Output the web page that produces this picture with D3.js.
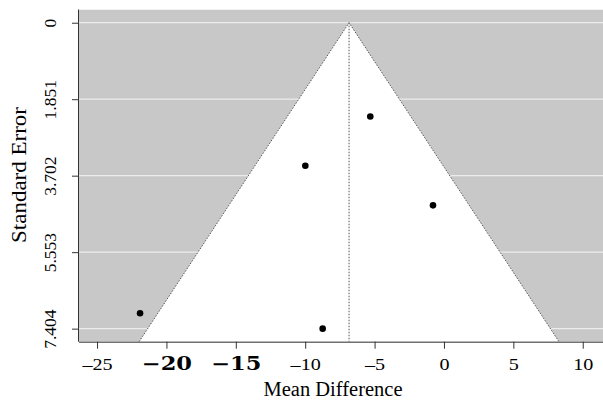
<!DOCTYPE html>
<html>
<head>
<meta charset="utf-8">
<style>
  body { margin: 0; background: #fff; }
  text { font-family: "Liberation Serif", "Times New Roman", serif; fill: #000; }
</style>
</head>
<body>
<div id="chart"></div>
<script src="https://cdn.jsdelivr.net/npm/d3@7"></script>
<script>
// study effects (mean difference) and standard errors
var meanDiff = [-5.31, -9.99, -0.79, -21.9, -8.74];
var stdErr = [2.27, 3.46, 4.42, 7.03, 7.404];
var pooled = -6.84;
var seTicks = [0, 1.851, 3.702, 5.553, 7.404];
var seTickLabels = ["0", "1.851", "3.702", "5.553", "7.404"];
var mdTicks = [-25, -20, -15, -10, -5, 0, 5, 10];

var W = 603, H = 402;
var pLeft = 79, pTop = 9.5, pRight = 603, pBottom = 341.7;

var svg = d3.select("#chart").append("svg")
  .attr("width", W).attr("height", H);

var x = d3.scaleLinear().domain([-26.3, 11.46]).range([pLeft, pRight]);
var y = d3.scaleLinear().domain([-0.32, 7.72]).range([pTop, pBottom]);

svg.append("clipPath").attr("id", "plotclip")
  .append("rect").attr("x", pLeft).attr("y", pTop)
  .attr("width", pRight - pLeft).attr("height", pBottom - pTop);

var plot = svg.append("g").attr("clip-path", "url(#plotclip)");

// grey background
plot.append("rect")
  .attr("x", pLeft).attr("y", pTop)
  .attr("width", pRight - pLeft).attr("height", pBottom - pTop)
  .attr("fill", "#c8c8c8");

// white grid lines
plot.selectAll("line.grid").data(seTicks).enter().append("line")
  .attr("class", "grid")
  .attr("x1", pLeft).attr("x2", pRight)
  .attr("y1", function(d) { return y(d); })
  .attr("y2", function(d) { return y(d); })
  .attr("stroke", "#ececec").attr("stroke-width", 1.2);

// funnel region
var seMax = y.domain()[1];
var funnel = [
  [pooled - 1.96 * seMax, seMax],
  [pooled, 0],
  [pooled + 1.96 * seMax, seMax]
];
plot.append("polygon")
  .attr("points", funnel.map(function(p) { return x(p[0]) + "," + y(p[1]); }).join(" "))
  .attr("fill", "#fff");

plot.append("path")
  .attr("d", d3.line().x(function(p) { return x(p[0]); }).y(function(p) { return y(p[1]); })(funnel))
  .attr("fill", "none")
  .attr("stroke", "#555")
  .attr("stroke-width", 1)
  .attr("stroke-dasharray", "1.5,1.5");

// pooled estimate line
plot.append("line")
  .attr("x1", x(pooled)).attr("x2", x(pooled))
  .attr("y1", y(0)).attr("y2", pBottom)
  .attr("stroke", "#555")
  .attr("stroke-width", 1)
  .attr("stroke-dasharray", "1.5,1.5");

// points
plot.selectAll("circle").data(meanDiff).enter().append("circle")
  .attr("cx", function(d) { return x(d); })
  .attr("cy", function(d, i) { return y(stdErr[i]); })
  .attr("r", 3.3)
  .attr("fill", "#000");

// axes
var xAxis = svg.append("g")
  .attr("transform", "translate(0," + pBottom + ")")
  .call(d3.axisBottom(x).tickValues(mdTicks).tickSize(7).tickSizeOuter(0)
    .tickFormat(function(d) { return d < 0 ? "\u2013" + Math.abs(d) : d; }));
xAxis.select(".domain").attr("stroke", "#333").attr("d", "M" + pLeft + ",0.5H" + pRight);
xAxis.selectAll(".tick line").attr("stroke", "#333");
xAxis.selectAll(".tick text")
  .attr("y", 0).attr("dy", 0)
  .attr("transform", "translate(0,28) scale(1.15,1)")
  .style("font-family", "'Liberation Serif', serif")
  .style("font-size", "17.5px")
  .attr("fill", "#000");
// the -20 and -15 labels are drawn in a wider font in the original
xAxis.selectAll(".tick text")
  .filter(function(d) { return d === -20 || d === -15; })
  .text(function(d) { return "\u2212" + Math.abs(d); })
  .attr("transform", "translate(0,28) scale(1.25,1)")
  .style("font-family", "'DejaVu Serif', serif")
  .style("font-weight", "bold")
  .style("font-size", "18px");

var yAxis = svg.append("g")
  .attr("transform", "translate(" + pLeft + ",0)")
  .call(d3.axisLeft(y).tickValues(seTicks).tickSize(7).tickSizeOuter(0)
    .tickFormat(function(d, i) { return seTickLabels[i]; }));
yAxis.select(".domain").attr("stroke", "#333").attr("d", "M-0.5," + pTop + "V" + pBottom);
yAxis.selectAll(".tick line").attr("stroke", "#333");
yAxis.selectAll(".tick text")
  .attr("x", 0).attr("dy", 0)
  .attr("transform", "translate(" + (56 - pLeft) + ",0) rotate(-90)")
  .attr("text-anchor", "middle")
  .style("font-family", "'Liberation Serif', serif")
  .style("font-size", "17.5px")
  .attr("fill", "#000");

// axis titles
svg.append("text")
  .attr("x", 333).attr("y", 396)
  .attr("text-anchor", "middle")
  .style("font-size", "20.5px")
  .text("Mean Difference");

svg.append("text")
  .attr("transform", "translate(26,175) rotate(-90) scale(1.15,1)")
  .attr("text-anchor", "middle")
  .style("font-size", "20px")
  .text("Standard Error");
</script>
</body>
</html>
